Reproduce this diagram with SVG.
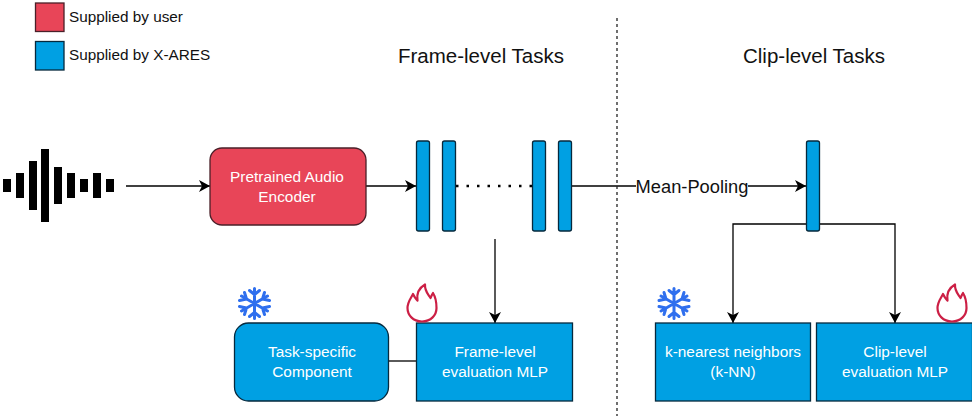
<svg xmlns="http://www.w3.org/2000/svg" width="972" height="416" viewBox="0 0 972 416">
<style>
text{font-family:"Liberation Sans",Arial,sans-serif;text-anchor:middle}
.w{fill:#fff;font-size:15.400px}
.b{fill:#00a0e3;stroke:#06293d;stroke-width:1.3}
.r{fill:#e84558;stroke:#4a2029;stroke-width:1.3}
.c{fill:none;stroke:#000;stroke-width:1.3}
.ti{font-size:20.500px;fill:#111}
.lg{font-size:15.300px;text-anchor:start;fill:#111}
.wave{fill:#000}
.snow{fill:none;stroke:#2f6fee;stroke-width:3;stroke-linecap:round;stroke-linejoin:round}
.fire{fill:none;stroke:#cc1f45;stroke-width:2.2;stroke-linejoin:round}
</style>
<defs><marker id="a" markerUnits="userSpaceOnUse" markerWidth="12" markerHeight="12" refX="11" refY="6" orient="auto"><path d="M0 0L11 6L0 12L3 6Z" fill="#000"/></marker>
<g id="flake"><path class="snow" d="M0-15V15M-13-7.500L13 7.500M-13 7.500L13-7.500M-5-13L0-9L5-13M-5 13L0 9L5 13M-15-3L-8-4.500L-10-11M15 3L8 4.500L10 11M-15 3L-8 4.500L-10 11M15-3L8-4.500L10-11"/></g>
<path id="flame" class="fire" d="M0 18.500C-9 18.500-14.500 12-14.500 5C-14.500-1-11-5-9-9C-7.500-6-6.500-4-4.500-2.500C-5.500-9-3-15 3-18.500C2.500-12 6-9 8.500-5C9.500-7 10-8.500 11-10C13.500-6 14.500-1 14.500 5C14.500 12 9 18.500 0 18.500Z"/></defs>

<g id="legend-user"><rect class="r" x="35.500" y="3" width="28.500" height="28.500"/><text class="lg" x="69" y="22">Supplied by user</text></g>
<g id="legend-xares"><rect class="b" x="35.500" y="41.500" width="28.500" height="28.500"/><text class="lg" x="69" y="60">Supplied by X-ARES</text></g>
<text class="ti" x="481" y="63">Frame-level Tasks</text>
<text class="ti" x="814" y="63">Clip-level Tasks</text>

<g id="waveform" class="wave">
<rect x="3" y="179" width="8" height="13"/><rect x="16" y="173" width="8" height="25"/><rect x="29" y="161" width="8" height="49"/><rect x="41" y="149" width="8" height="73"/><rect x="54" y="167" width="8" height="37"/><rect x="67" y="173" width="8" height="25"/><rect x="80" y="179" width="8" height="13"/><rect x="93" y="173" width="8" height="25"/><rect x="106" y="179" width="8" height="13"/>
</g>

<g id="connectors">
<path class="c" d="M126 186H210" marker-end="url(#a)"/>
<path class="c" d="M366 186H416" marker-end="url(#a)"/>
<path class="c" d="M456 186H533" stroke-dasharray="2.500 8" style="stroke-width:2.500"/>
<path class="c" d="M572 186H806" marker-end="url(#a)"/>
<path class="c" d="M495 239V323" marker-end="url(#a)"/>
<path class="c" d="M813 224H733V323" marker-end="url(#a)"/>
<path class="c" d="M813 224H895V323" marker-end="url(#a)"/>
<path class="c" d="M389 361H416"/>
<path d="M617 18V416" fill="none" stroke="#222" stroke-width="1.300" stroke-dasharray="3 3"/>
</g>

<g id="encoder"><rect class="r" x="210" y="148" width="156" height="77" rx="12"/><text class="w" x="287" y="182">Pretrained Audio</text><text class="w" x="287" y="202">Encoder</text></g>
<g id="frame-bar-1"><rect class="b" x="416.500" y="141" width="13" height="90" rx="2"/></g>
<g id="frame-bar-2"><rect class="b" x="442.500" y="141" width="13" height="90" rx="2"/></g>
<g id="frame-bar-3"><rect class="b" x="532.500" y="141" width="13" height="90" rx="2"/></g>
<g id="frame-bar-4"><rect class="b" x="558.500" y="141" width="13" height="90" rx="2"/></g>
<g id="clip-bar"><rect class="b" x="806.500" y="141" width="13" height="90" rx="2"/></g>
<g id="mean-pooling"><rect x="636" y="176" width="112" height="20" fill="#fff"/><text x="692" y="192.500" style="font-size:18.300px;fill:#111">Mean-Pooling</text></g>

<g id="task-component"><rect class="b" x="234.500" y="323" width="154" height="78" rx="14"/><text class="w" x="312" y="357">Task-specific</text><text class="w" x="312" y="377">Component</text></g>
<g id="frame-mlp"><rect class="b" x="416.500" y="323" width="156" height="78"/><text class="w" x="495" y="357">Frame-level</text><text class="w" x="495" y="377">evaluation MLP</text></g>
<g id="knn"><rect class="b" x="655.500" y="323" width="155" height="78"/><text class="w" x="733" y="357">k-nearest neighbors</text><text class="w" x="733" y="377">(k-NN)</text></g>
<g id="clip-mlp"><rect class="b" x="816.500" y="323" width="156" height="78"/><text class="w" x="895" y="357">Clip-level</text><text class="w" x="895" y="377">evaluation MLP</text></g>

<use href="#flake" x="254.500" y="303.500"/>
<use href="#flame" x="422" y="303"/>
<use href="#flake" x="674" y="303.500"/>
<use href="#flame" x="952" y="303"/>
</svg>
